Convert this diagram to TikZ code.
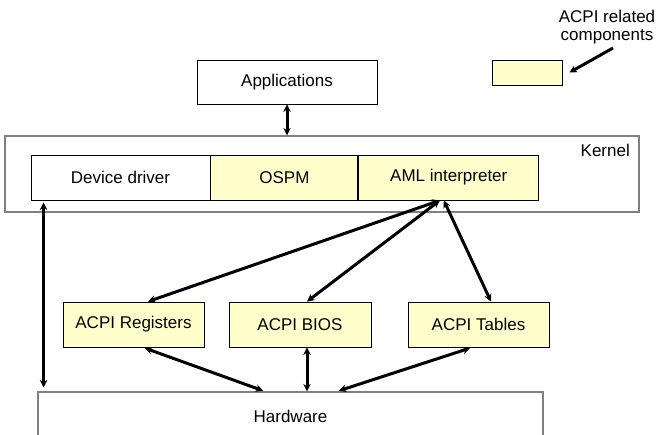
\documentclass[tikz,border=0pt]{standalone}
\usepackage{fontspec}
\setmainfont{Liberation Sans}
\usetikzlibrary{arrows.meta,positioning}
\definecolor{acpifill}{HTML}{FFFFCC}

\begin{document}
\begin{tikzpicture}[x=1pt,y=-1pt,
    font=\fontsize{17}{18.5}\selectfont,
    block/.style={rectangle,draw,line width=0.9pt,inner sep=0pt,minimum height=45pt},
    acpi/.style={block,fill=acpifill},
    layer/.style={rectangle,draw=black!50,line width=1.2pt,inner sep=0pt},
    tag/.style={inner sep=0pt},
    link/.style={line width=3pt,{Stealth[length=7.5pt,width=7.5pt]}-{Stealth[length=7.5pt,width=7.5pt]}}]
  \useasboundingbox (0,0) rectangle (659,434);

  \node[block,minimum width=180pt,minimum height=44pt] (app) at (287,82) {Applications};
  \node[layer,minimum width=634pt,minimum height=76pt] (kernel) at (322,174) {};
  \node[tag,anchor=east] (kname) at (630,150) {Kernel};
  \node[block,minimum width=179pt] (drv) at (120.5,177.5) {Device driver};
  \node[acpi,minimum width=147pt,right=0pt of drv] (ospm) {OSPM};
  \node[acpi,minimum width=180pt,right=0pt of ospm] (aml) {AML interpreter};

  \node[acpi,minimum width=141pt] (reg) at (133.5,324.5) {ACPI Registers};
  \node[acpi,minimum width=142pt] (bios) at (300,324.5) {ACPI BIOS};
  \node[acpi,minimum width=141pt] (tbl) at (478.5,324.5) {ACPI Tables};
  \node[layer,minimum width=505pt,minimum height=48pt] (hw) at (290.5,416) {Hardware};

  \node[acpi,minimum width=70pt,minimum height=25pt] (lgd) at (527,72.5) {};
  \node[tag,align=center] (lgdtext) at (607,27) {ACPI related\\components};
  \coordinate (lgdtail) at (613,48);

  \draw[link] (app) -- (app |- kernel.north);
  \draw[link,shorten <=2pt,shorten >=4pt] ([xshift=13pt]drv.south west) -- ([xshift=13pt]drv.south west |- hw.north);

  \draw[link] ([xshift=-9pt]aml.south) -- ([xshift=14.5pt]reg.north);
  \draw[link] ([xshift=-9pt]aml.south) -- ([xshift=7pt]bios.north);
  \draw[link] ([xshift=-5pt]aml.south) -- ([xshift=12.5pt]tbl.north);

  \draw[link,shorten <=2pt,shorten >=2pt] ([xshift=9.5pt]reg.south) -- ([xshift=-25.5pt]hw.north);
  \draw[link] ([xshift=7pt]bios.south) -- ([xshift=7pt]bios.south |- hw.north);
  \draw[link,shorten <=2pt,shorten >=2pt] ([xshift=-6.5pt]tbl.south) -- ([xshift=46.5pt]hw.north);

  \draw[line width=3pt,-{Stealth[length=7.5pt,width=7.5pt]}] (lgdtail) -- ([xshift=7pt]lgd.east);
\end{tikzpicture}
\end{document}
